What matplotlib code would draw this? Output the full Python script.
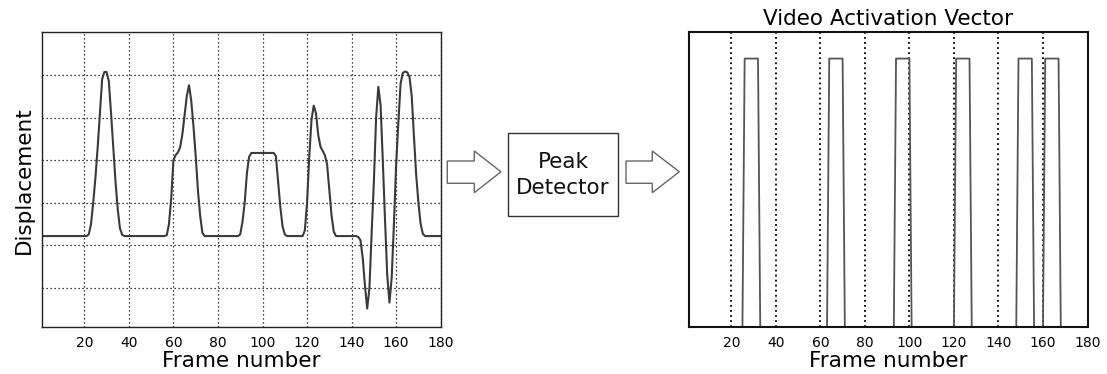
import numpy as np
import matplotlib
matplotlib.use("Agg")
import matplotlib.pyplot as plt
from matplotlib.patches import Polygon, Rectangle

plt.rcParams['font.family'] = ['DejaVu Sans']

# ---- data -------------------------------------------------------------
frame_ticks = [20, 40, 60, 80, 100, 120, 140, 160, 180]

# displacement signal (frame, value); flat stretches are given by their ends
disp_frames = [1, 21, 22, 23, 24, 25, 26, 27, 28, 29, 30, 31, 32, 33, 34, 35, 36, 37, 38,
               56, 57, 58, 59, 60, 61, 62, 63, 64, 65, 66, 67, 68, 69, 70, 71, 72, 73, 74,
               89, 90, 91, 92, 93, 94, 95, 105, 106, 107, 108, 109, 110, 111,
               118, 119, 120, 121, 122, 123, 124, 125, 126, 127, 128, 129, 130, 131, 132, 133,
               142, 143, 144, 145, 146, 147, 148, 149, 150, 151, 152, 153, 154, 155, 156, 157,
               158, 159, 160, 161, 162, 163, 164, 165, 166, 167, 168, 169, 170, 171, 172, 173,
               180]
disp_values = [0.22, 0.22, 0.26, 0.5, 1.0, 1.6, 2.3, 3.1, 3.9, 4.07, 4.07, 3.85, 3.1, 2.3, 1.5, 0.85, 0.4, 0.25, 0.22,
               0.22, 0.24, 0.5, 1.1, 2.0, 2.12, 2.18, 2.3, 2.6, 3.05, 3.5, 3.76, 3.4, 2.8, 2.1, 1.3, 0.7, 0.3, 0.22,
               0.22, 0.26, 0.55, 1.0, 1.7, 2.08, 2.17, 2.17, 2.1, 1.5, 0.9, 0.45, 0.26, 0.22,
               0.22, 0.35, 1.0, 2.1, 2.95, 3.28, 3.1, 2.6, 2.32, 2.22, 2.12, 1.9, 1.3, 0.7, 0.32, 0.22,
               0.22, 0.2, 0.12, -0.3, -0.95, -1.48, -1.0, 0.3, 1.5, 3.0, 3.72, 3.3, 2.0, 0.6, -0.7, -1.34,
               -0.75, 0.5, 1.9, 2.9, 3.8, 4.05, 4.08, 4.06, 3.95, 3.5, 2.55, 1.65, 1.0, 0.5, 0.27, 0.22,
               0.22]

# detected peak intervals (first and last active frame)
active_start = [26, 64, 94, 121, 149, 161]
active_end = [32, 70, 100, 127, 155, 167]

n_frames = 180

# ---- figure -----------------------------------------------------------
W, H = 1107, 374
fig = plt.figure(figsize=(W / 100, H / 100), dpi=100)


def fig_rect(x0, y0, x1, y1):
    """pixel box (top-left origin) -> figure-fraction [l, b, w, h]"""
    return [x0 / W, 1 - y1 / H, (x1 - x0) / W, (y1 - y0) / H]


dot = (0, (1, 2.2))

# left panel: displacement
ax1 = fig.add_axes(fig_rect(42, 32.3, 440.7, 327.3))
ax1.plot(disp_frames, disp_values, color='#3a3a3a', lw=1.5, solid_joinstyle='round')
ax1.set_xlim(1, 180)
ax1.set_ylim(-1.92, 5.0)
ax1.set_xticks(frame_ticks)
ax1.set_yticks([-1, 0, 1, 2, 3, 4])
ax1.set_yticklabels([])
ax1.grid(True, color='black', linestyle=dot, lw=0.9)
ax1.tick_params(direction='in', length=0, labelsize=10, pad=6)
ax1.set_xlabel('Frame number', fontsize=15.5, labelpad=1)
ax1.set_ylabel('Displacement', fontsize=15.5, labelpad=0)
for s in ax1.spines.values():
    s.set_linewidth(1.0)
    s.set_color('#222222')

# right panel: activation vector
frames = np.arange(1, n_frames + 1)
activation = np.zeros(n_frames)
for a, b in zip(active_start, active_end):
    activation[(frames >= a) & (frames <= b)] = 1.0

ax2 = fig.add_axes(fig_rect(689, 31.7, 1087.5, 327.3))
ax2.plot(frames, activation, color='#555555', lw=1.3)
ax2.set_xlim(1, 180)
ax2.set_ylim(0, 1.1)
ax2.set_xticks(frame_ticks)
ax2.set_yticks([])
ax2.grid(True, axis='x', color='black', linestyle=(0, (1, 1.8)), lw=1.3)
ax2.tick_params(direction='in', length=0, labelsize=10, pad=6)
ax2.set_xlabel('Frame number', fontsize=15.5, labelpad=1)
ax2.set_title('Video Activation Vector', fontsize=15.5, pad=5)
for s in ax2.spines.values():
    s.set_linewidth(1.5)
    s.set_color('#111111')

# block diagram between the panels
def px(x, y):
    return (x / W, 1 - y / H)


def arrow(x0, xm, x1):
    pts = [px(x0, 161), px(xm, 161), px(xm, 151), px(x1, 171.8),
           px(xm, 192.7), px(xm, 183.3), px(x0, 183.3)]
    fig.patches.append(Polygon(pts, closed=True, transform=fig.transFigure,
                               facecolor='white', edgecolor='#666666', lw=1.0))


arrow(447.3, 474.3, 501)
arrow(626, 652.3, 679.3)

bx0, by0, bx1, by1 = 507.7, 133.3, 617.7, 215.7
fig.patches.append(Rectangle(px(bx0, by1), (bx1 - bx0) / W, (by1 - by0) / H,
                             transform=fig.transFigure, facecolor='white',
                             edgecolor='#333333', lw=1.0))
fig.text(*px(563, 175), 'Peak\nDetector', ha='center', va='center',
         fontsize=15.5, linespacing=1.4, color='#111111')

fig.savefig('out.png', dpi=100, facecolor='white')
